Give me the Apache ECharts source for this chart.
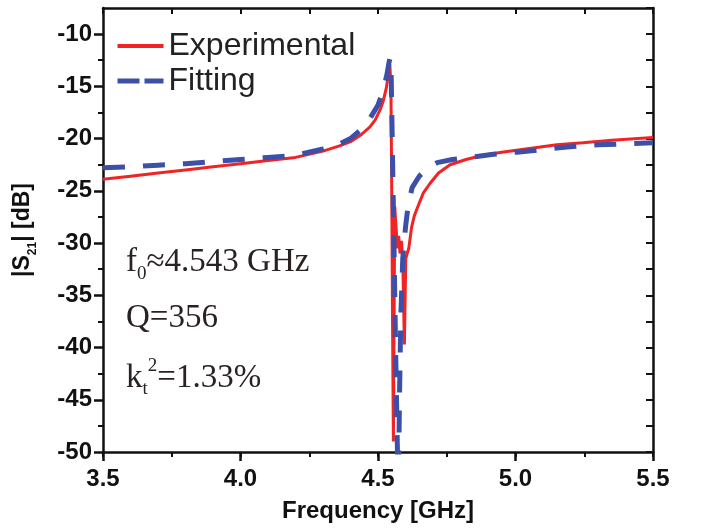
<!DOCTYPE html>
<html>
<head>
<meta charset="utf-8">
<script src="https://cdn.jsdelivr.net/npm/echarts@6/dist/echarts.min.js"></script>
<style>
  html, body { margin: 0; padding: 0; background: #ffffff; }
  #chart { width: 701px; height: 529px; }
</style>
</head>
<body>
<div id="chart"></div>
<script>
// Measured transmission |S21| of the resonator (GHz, dB)
const expFreq = [
  3.50, 3.60, 3.70, 3.80, 3.90, 4.00, 4.10, 4.20, 4.30, 4.36, 4.40, 4.44, 4.47, 4.49,
  4.51, 4.52, 4.53, 4.537, 4.543, 4.547, 4.550, 4.553, 4.556, 4.559, 4.561, 4.563,
  4.567, 4.571, 4.575, 4.580, 4.585, 4.590, 4.596, 4.601, 4.606, 4.612, 4.622, 4.632,
  4.645, 4.665, 4.689, 4.72, 4.762, 4.82, 4.882, 4.95, 5.064, 5.15, 5.245, 5.35, 5.50
];
const expS21 = [
  -23.9, -23.6, -23.3, -23.0, -22.7, -22.4, -22.1, -21.8, -21.2, -20.7, -20.3, -19.6, -18.9, -18.2,
  -17.1, -16.3, -15.2, -14.0, -12.9, -15.0, -25.0, -38.0, -49.0, -35.0, -26.5, -27.5,
  -29.0, -30.5, -29.3, -31.0, -29.8, -31.5, -39.7, -31.5, -31.0, -30.5, -28.5, -27.4,
  -26.5, -25.2, -24.3, -23.3, -22.5, -22.0, -21.6, -21.3, -20.9, -20.6, -20.4, -20.15, -19.9
];

// Fitted resonator model |S21| (GHz, dB)
const fitFreq = [
  3.50, 3.60, 3.70, 3.80, 3.90, 4.00, 4.10, 4.20, 4.30, 4.36, 4.40, 4.44, 4.47, 4.50,
  4.52, 4.533, 4.540, 4.544, 4.548, 4.553, 4.558, 4.564, 4.570, 4.574, 4.578, 4.583,
  4.590, 4.600, 4.610, 4.624, 4.650, 4.680, 4.715, 4.770, 4.835, 4.920, 5.005, 5.100,
  5.187, 5.300, 5.400, 5.500
];
const fitS21 = [
  -22.8, -22.7, -22.55, -22.4, -22.2, -22.0, -21.8, -21.6, -21.0, -20.5, -20.0, -19.1, -18.1, -16.8,
  -15.3, -13.8, -12.7, -12.3, -14.0, -22.0, -30.0, -40.0, -49.0, -54.0, -45.0, -37.0,
  -31.5, -28.5, -26.3, -24.7, -23.6, -22.8, -22.3, -22.0, -21.8, -21.5, -21.3, -21.05,
  -20.8, -20.6, -20.5, -20.4
];

const seriesNames = ['Experimental', 'Fitting'];
const xMajorTicks = [3.5, 4.0, 4.5, 5.0, 5.5];
const yMajorTicks = [-50, -45, -40, -35, -30, -25, -20, -15, -10];
const yMinorTicks = [-47.5, -42.5, -37.5, -32.5, -27.5, -22.5, -17.5, -12.5];

const pair = (xs, ys) => xs.map((x, i) => [x, ys[i]]);

const AXIS_COLOR = '#111111';
const SANS = 'Liberation Sans, Arial, sans-serif';
const SERIF = 'Liberation Serif, Times New Roman, serif';
const LABEL_FONT = { fontFamily: SANS, fontWeight: 'bold', fontSize: 24, color: '#111111' };
const X_MIN = 3.5, X_MAX = 5.5, Y_MIN = -50, Y_MAX = -7.5;

const chart = echarts.init(document.getElementById('chart'), null, { renderer: 'canvas' });

const option = {
  backgroundColor: '#ffffff',
  animation: false,
  grid: { left: 103, right: 48, top: 8, bottom: 77, containLabel: false },
  legend: {
    orient: 'vertical',
    left: 110,
    top: 25,
    itemWidth: 46,
    itemHeight: 14,
    itemGap: 3,
    itemStyle: { opacity: 0 },
    textStyle: { fontFamily: SANS, fontSize: 32, color: '#222222' },
    data: [
      { name: seriesNames[0], lineStyle: { width: 4 } },
      { name: seriesNames[1], lineStyle: { type: [22, 5], width: 5 } }
    ]
  },
  xAxis: [
    {
      type: 'value', position: 'bottom', min: X_MIN, max: X_MAX, interval: 0.25,
      name: 'Frequency [GHz]', nameLocation: 'middle', nameGap: 47,
      nameTextStyle: { fontFamily: SANS, fontWeight: 'bold', fontSize: 24, color: '#111111' },
      axisLine: { onZero: false, lineStyle: { color: AXIS_COLOR, width: 2.5 } },
      axisTick: { inside: false, length: 5, lineStyle: { color: AXIS_COLOR, width: 2 } },
      axisLabel: Object.assign({ margin: 15, customValues: xMajorTicks, formatter: v => v.toFixed(1) }, LABEL_FONT),
      splitLine: { show: false }
    },
    {
      type: 'value', position: 'bottom', min: X_MIN, max: X_MAX,
      axisLine: { show: false, onZero: false },
      axisTick: { inside: false, length: 9, customValues: xMajorTicks, lineStyle: { color: AXIS_COLOR, width: 2.5 } },
      axisLabel: { show: false },
      splitLine: { show: false }
    },
    {
      type: 'value', position: 'top', min: X_MIN, max: X_MAX, interval: 0.25,
      axisLine: { onZero: false, lineStyle: { color: AXIS_COLOR, width: 2.5 } },
      axisTick: { inside: true, length: 6, lineStyle: { color: AXIS_COLOR, width: 2 } },
      axisLabel: { show: false },
      splitLine: { show: false }
    }
  ],
  yAxis: [
    {
      type: 'value', position: 'left', min: Y_MIN, max: Y_MAX,
      name: '{t||S}{s|21}{t|| [dB]}', nameLocation: 'middle', nameGap: 64, nameRotate: 90,
      nameTextStyle: {
        rich: {
          t: { fontFamily: SANS, fontWeight: 'bold', fontSize: 23, color: '#111111', lineHeight: 32 },
          s: { fontFamily: SANS, fontWeight: 'bold', fontSize: 12, color: '#111111', lineHeight: 14, verticalAlign: 'bottom' }
        }
      },
      axisLine: { onZero: false, lineStyle: { color: AXIS_COLOR, width: 2.5 } },
      axisTick: { inside: false, length: 9, customValues: yMajorTicks, lineStyle: { color: AXIS_COLOR, width: 2.5 } },
      axisLabel: Object.assign({ margin: 11, customValues: yMajorTicks, formatter: v => String(v) }, LABEL_FONT),
      splitLine: { show: false }
    },
    {
      type: 'value', position: 'left', min: Y_MIN, max: Y_MAX,
      axisLine: { show: false, onZero: false },
      axisTick: { inside: false, length: 5, customValues: yMinorTicks, lineStyle: { color: AXIS_COLOR, width: 2 } },
      axisLabel: { show: false },
      splitLine: { show: false }
    },
    {
      type: 'value', position: 'right', min: Y_MIN, max: Y_MAX, interval: 2.5,
      axisLine: { onZero: false, lineStyle: { color: AXIS_COLOR, width: 2.5 } },
      axisTick: { inside: true, length: 7, lineStyle: { color: AXIS_COLOR, width: 2 } },
      axisLabel: { show: false },
      splitLine: { show: false }
    }
  ],
  series: [
    {
      name: seriesNames[0], type: 'line', xAxisIndex: 0, yAxisIndex: 0,
      data: pair(expFreq, expS21), showSymbol: false, symbol: 'none', clip: true,
      lineStyle: { color: '#f02424', width: 3 }, itemStyle: { color: '#f02424' }, z: 2
    },
    {
      name: seriesNames[1], type: 'line', xAxisIndex: 0, yAxisIndex: 0,
      data: pair(fitFreq, fitS21), showSymbol: false, symbol: 'none', clip: true,
      lineStyle: { color: '#3c50aa', width: 5, type: [22, 18] }, itemStyle: { color: '#3c50aa' }, z: 3
    }
  ],
  graphic: [
    {
      type: 'text', left: 126, top: 246,
      style: {
        text: '{m|f}{b|0}{m|≈4.543 GHz}',
        rich: {
          m: { fontFamily: SERIF, fontSize: 33, fill: '#2a2222', lineHeight: 42 },
          b: { fontFamily: SERIF, fontSize: 19, fill: '#2a2222', lineHeight: 19, verticalAlign: 'bottom' }
        }
      }
    },
    {
      type: 'text', left: 126, top: 302,
      style: {
        text: '{m|Q=356}',
        rich: { m: { fontFamily: SERIF, fontSize: 33, fill: '#2a2222', lineHeight: 42 } }
      }
    },
    {
      type: 'text', left: 126, top: 357,
      style: {
        text: '{m|k}{b|t}{p|2}{m|=1.33%}',
        rich: {
          m: { fontFamily: SERIF, fontSize: 33, fill: '#2a2222', lineHeight: 42 },
          b: { fontFamily: SERIF, fontSize: 19, fill: '#2a2222', lineHeight: 19, verticalAlign: 'bottom' },
          p: { fontFamily: SERIF, fontSize: 19, fill: '#2a2222', lineHeight: 19, verticalAlign: 'top' }
        }
      }
    }
  ]
};

chart.setOption(option);
</script>
</body>
</html>
